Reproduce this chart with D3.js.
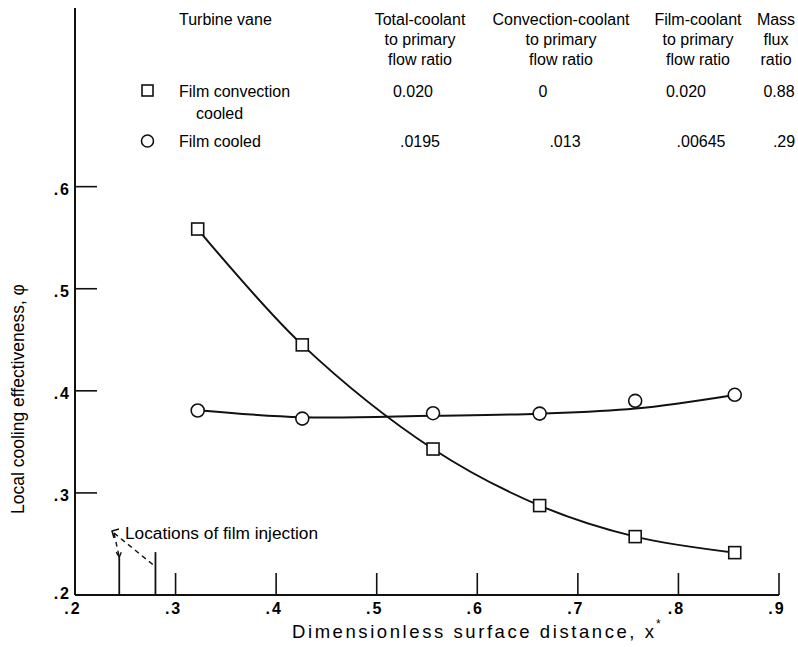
<!DOCTYPE html>
<html>
<head>
<meta charset="utf-8">
<script src="https://cdn.jsdelivr.net/npm/d3@7"></script>
<style>
  body { margin: 0; background: #fff; }
  svg { display: block; }
  text { font-family: "Liberation Sans", Arial, sans-serif; fill: #000; }
</style>
</head>
<body>
<div id="chart"></div>
<script>
// values
const xPos = [0.322, 0.426, 0.556, 0.662, 0.757, 0.856];
const convectionCooled = [0.5585, 0.445, 0.343, 0.2876, 0.2572, 0.2415];
const filmCooled = [0.3807, 0.3728, 0.3781, 0.3777, 0.3902, 0.3961];
// faired curve through the film cooled data
const filmCurve = [0.381, 0.3742, 0.3756, 0.3776, 0.3826, 0.396];

const xTicks = [0.2, 0.3, 0.4, 0.5, 0.6, 0.7, 0.8, 0.9];
const yTicks = [0.2, 0.3, 0.4, 0.5, 0.6];
const injectionX = [0.244, 0.28];
const injectionTop = [0.237, 0.242];

const headers = [
  ["Total-coolant", "to primary", "flow ratio"],
  ["Convection-coolant", "to primary", "flow ratio"],
  ["Film-coolant", "to primary", "flow ratio"],
  ["Mass", "flux", "ratio"]
];
const rowNames = [["Film convection", "cooled"], ["Film cooled"]];
const rowValues = [
  ["0.020", "0", "0.020", "0.88"],
  [".0195", ".013", ".00645", ".29"]
];

const width = 798, height = 647;

const svg = d3.select("#chart").append("svg")
  .attr("width", width)
  .attr("height", height);

const x = d3.scaleLinear().domain([0.2, 0.9]).range([75, 779]);
const y = d3.scaleLinear().domain([0.2, 0.775]).range([595, 8]);

// axes lines
svg.append("line")
  .attr("x1", x(0.2)).attr("x2", x(0.2))
  .attr("y1", y(0.775)).attr("y2", y(0.2))
  .attr("stroke", "#111").attr("stroke-width", 2);
svg.append("line")
  .attr("x1", x(0.2)).attr("x2", x(0.9))
  .attr("y1", y(0.2)).attr("y2", y(0.2))
  .attr("stroke", "#111").attr("stroke-width", 2);

// y ticks, drawn inward
svg.selectAll(".ytick")
  .data(yTicks.slice(1))
  .enter().append("line")
  .attr("x1", x(0.2)).attr("x2", x(0.2) + 22)
  .attr("y1", d => y(d)).attr("y2", d => y(d))
  .attr("stroke", "#111").attr("stroke-width", 1.6);

svg.selectAll(".ylab")
  .data(yTicks)
  .enter().append("text")
  .attr("x", 71)
  .attr("y", d => d === 0.2 ? y(d) + 4 : y(d) + 8)
  .attr("text-anchor", "end")
  .style("font-size", "16px")
  .style("font-weight", "bold")
  .style("letter-spacing", "2px")
  .text(d => d3.format(".1f")(d).replace("0.", "."));

// x ticks, drawn inward
svg.selectAll(".xtick")
  .data(xTicks.slice(1))
  .enter().append("line")
  .attr("x1", d => x(d)).attr("x2", d => x(d))
  .attr("y1", y(0.2)).attr("y2", y(0.2) - 22)
  .attr("stroke", "#111").attr("stroke-width", 1.6);

svg.selectAll(".xlab")
  .data(xTicks)
  .enter().append("text")
  .attr("x", d => x(d) - 2)
  .attr("y", 614)
  .attr("text-anchor", "middle")
  .style("font-size", "16px")
  .style("font-weight", "bold")
  .style("letter-spacing", "2px")
  .text(d => d3.format(".1f")(d).replace("0.", "."));

// axis titles
svg.append("text")
  .attr("x", 292).attr("y", 638)
  .attr("textLength", 362)
  .attr("lengthAdjust", "spacing")
  .style("font-size", "18.5px")
  .text("Dimensionless surface distance, x");
svg.append("text")
  .attr("x", 656).attr("y", 628)
  .style("font-size", "12px")
  .text("*");

svg.append("text")
  .attr("transform", "translate(24,399) rotate(-90)")
  .attr("text-anchor", "middle")
  .style("font-size", "17.5px")
  .text("Local cooling effectiveness, \u03c6");

// film injection locations
svg.selectAll(".inj")
  .data(injectionX)
  .enter().append("line")
  .attr("x1", d => x(d)).attr("x2", d => x(d))
  .attr("y1", y(0.2)).attr("y2", (d, i) => y(injectionTop[i]))
  .attr("stroke", "#111").attr("stroke-width", 1.8);

svg.selectAll(".lead")
  .data(injectionX)
  .enter().append("line")
  .attr("x1", 114).attr("y1", 533)
  .attr("x2", (d, i) => i === 0 ? x(d) : x(d) - 2)
  .attr("y2", (d, i) => i === 0 ? y(injectionTop[i]) : y(injectionTop[i]) + 13)
  .attr("stroke", "#111").attr("stroke-width", 1.4)
  .attr("stroke-dasharray", "5,4");

svg.append("path")
  .attr("d", "M119,529 L112,531 L114,538")
  .attr("fill", "none").attr("stroke", "#111").attr("stroke-width", 1.5);
svg.append("path")
  .attr("d", `M${x(injectionX[0]) - 3},${y(injectionTop[0]) - 5} L${x(injectionX[0])},${y(injectionTop[0])} L${x(injectionX[0]) + 2},${y(injectionTop[0]) - 5}`)
  .attr("fill", "none").attr("stroke", "#111").attr("stroke-width", 1.4);

svg.append("text")
  .attr("x", 125).attr("y", 539)
  .style("font-size", "17.3px")
  .text("Locations of film injection");

// curves
const line = d3.line()
  .x(d => x(d[0]))
  .y(d => y(d[1]))
  .curve(d3.curveCatmullRom.alpha(0.5));

svg.append("path")
  .attr("d", line(xPos.map((d, i) => [d, convectionCooled[i]])))
  .attr("fill", "none").attr("stroke", "#111").attr("stroke-width", 2);

svg.append("path")
  .attr("d", line(xPos.map((d, i) => [d, filmCurve[i]])))
  .attr("fill", "none").attr("stroke", "#111").attr("stroke-width", 2);

// markers
svg.selectAll(".sq")
  .data(xPos)
  .enter().append("rect")
  .attr("x", d => x(d) - 6)
  .attr("y", (d, i) => y(convectionCooled[i]) - 6)
  .attr("width", 12).attr("height", 12)
  .attr("fill", "#fff").attr("stroke", "#111").attr("stroke-width", 1.6);

svg.selectAll(".ci")
  .data(xPos)
  .enter().append("circle")
  .attr("cx", d => x(d))
  .attr("cy", (d, i) => y(filmCooled[i]))
  .attr("r", 6.5)
  .attr("fill", "#fff").attr("stroke", "#111").attr("stroke-width", 1.6);

// legend table
const colX = [420, 561, 698, 776];
const valX = [
  [413, 543, 686, 779],
  [420, 565, 701, 784]
];
const lineY = [25, 45, 65];

svg.append("text").attr("x", 179).attr("y", 25)
  .style("font-size", "16px").text("Turbine vane");

headers.forEach((h, c) => {
  svg.selectAll(".h" + c)
    .data(h)
    .enter().append("text")
    .attr("x", colX[c])
    .attr("y", (d, i) => lineY[i])
    .attr("text-anchor", "middle")
    .style("font-size", "16px")
    .text(d => d);
});

const rowY = [97, 147];
svg.append("rect")
  .attr("x", 142).attr("y", rowY[0] - 12)
  .attr("width", 11).attr("height", 11)
  .attr("fill", "#fff").attr("stroke", "#111").attr("stroke-width", 1.6);
svg.append("circle")
  .attr("cx", 147.5).attr("cy", rowY[1] - 6)
  .attr("r", 6)
  .attr("fill", "#fff").attr("stroke", "#111").attr("stroke-width", 1.6);

svg.append("text").attr("x", 179).attr("y", rowY[0])
  .style("font-size", "16px").text(rowNames[0][0]);
svg.append("text").attr("x", 196).attr("y", rowY[0] + 22)
  .style("font-size", "16px").text(rowNames[0][1]);
svg.append("text").attr("x", 179).attr("y", rowY[1])
  .style("font-size", "16px").text(rowNames[1][0]);

rowValues.forEach((r, k) => {
  svg.selectAll(".v" + k)
    .data(r)
    .enter().append("text")
    .attr("x", (d, i) => valX[k][i])
    .attr("y", rowY[k])
    .attr("text-anchor", "middle")
    .style("font-size", "16px")
    .text(d => d);
});
</script>
</body>
</html>
